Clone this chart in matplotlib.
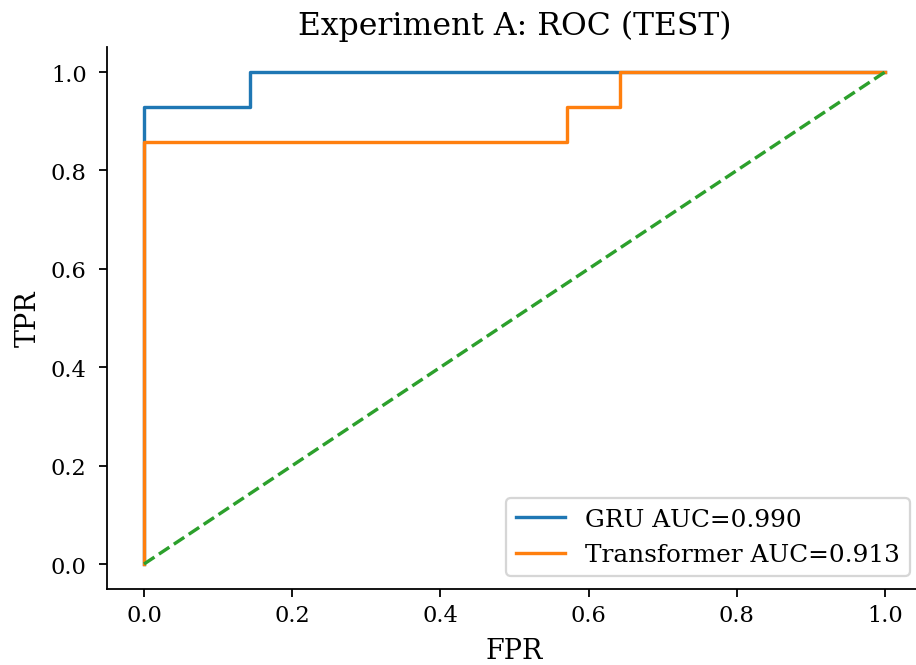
import matplotlib
matplotlib.use("Agg")
import matplotlib.pyplot as plt

plt.rcParams['font.family'] = 'DejaVu Serif'
plt.rcParams['font.size'] = 10

# ROC curve points (test set)
gru_fpr = [0.0, 0.0, 0.0, 0.143, 0.143, 1.0]
gru_tpr = [0.0, 0.857, 0.929, 0.929, 1.0, 1.0]
gru_auc = 0.990

trf_fpr = [0.0, 0.0, 0.571, 0.571, 0.643, 0.643, 1.0]
trf_tpr = [0.0, 0.857, 0.857, 0.929, 0.929, 1.0, 1.0]
trf_auc = 0.913

chance = [0.0, 1.0]

DPI = 162
fig = plt.figure(figsize=(916 / DPI, 666 / DPI), dpi=DPI)
ax = fig.add_axes([0.1168, 0.1147, 0.8898, 0.8126])

ax.plot(gru_fpr, gru_tpr, color='#1f77b4', lw=1.5, label=f'GRU AUC={gru_auc:.3f}')
ax.plot(trf_fpr, trf_tpr, color='#ff7f0e', lw=1.5, label=f'Transformer AUC={trf_auc:.3f}')
ax.plot(chance, chance, color='#2ca02c', lw=1.5, ls='--')

ax.set_xlim(-0.05, 1.05)
ax.set_ylim(-0.05, 1.05)
ax.tick_params(axis='y', pad=5.5)
ax.set_xlabel('FPR', fontsize=12, labelpad=4.8)
ax.set_ylabel('TPR', fontsize=12)
ax.set_title('Experiment A: ROC (TEST)', fontsize=14)
ax.spines['top'].set_visible(False)
ax.spines['right'].set_visible(False)
ax.legend(loc='lower right', fontsize=11)

fig.savefig('out.png', dpi=DPI)
